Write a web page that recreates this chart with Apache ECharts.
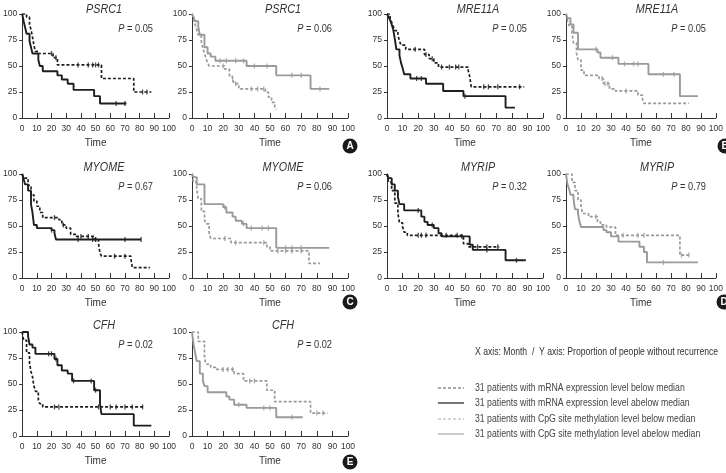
<!DOCTYPE html>
<html>
<head>
<meta charset="utf-8">
<script src="https://cdn.jsdelivr.net/npm/echarts@6/dist/echarts.min.js"></script>
<style>
  html, body { margin: 0; padding: 0; background: #fff; }
  #chart { width: 726px; height: 473px; }
</style>
</head>
<body>
<div id="chart"></div>
<script>
  // ---- data: [month, % without recurrence] at each step of the KM curves ----
  const genes = ['PSRC1', 'PSRC1', 'MRE11A', 'MRE11A', 'MYOME', 'MYOME', 'MYRIP', 'MYRIP', 'CFH', 'CFH'];
  const pValues = ['0.05', '0.06', '0.05', '0.05', '0.67', '0.06', '0.32', '0.79', '0.02', '0.02'];
  // 'mrna' = expression (black), 'cpg' = methylation (gray)
  const kinds = ['mrna', 'cpg', 'mrna', 'cpg', 'mrna', 'cpg', 'mrna', 'cpg', 'mrna', 'cpg'];

  // below median (dashed)
  const lowCurves = [
    [[0,100],[3,97],[5,90],[6,85],[7,78],[8,70],[9,64],[11,62],[21,58],[24,51],[54,38],[76,25],[88,25]],
    [[0,100],[1,95],[2,90],[3,85],[4,80],[6,73],[7,67],[8,62],[9,57],[10,53],[11,50],[21,47],[24,40],[26,37],[27,33],[30,28],[47,25],[49,20],[51,15],[53,11],[54,8]],
    [[0,100],[2,96],[3,92],[4,88],[5,84],[7,80],[8,74],[9,70],[12,66],[24,61],[27,57],[30,53],[33,49],[52,46],[53,40],[54,30],[88,30]],
    [[0,100],[1,94],[2,89],[4,82],[5,72],[7,62],[8,56],[10,46],[12,41],[22,38],[25,33],[29,28],[33,26],[48,22],[51,18],[52,14],[82,14]],
    [[0,100],[1,96],[4,89],[6,80],[8,74],[10,69],[12,63],[14,58],[25,56],[27,51],[30,48],[33,42],[37,40],[49,37],[52,33],[53,24],[54,21],[74,19],[75,10],[87,10]],
    [[0,100],[1,92],[3,86],[4,76],[6,64],[8,56],[9,52],[11,43],[12,38],[25,34],[48,30],[50,26],[75,14],[82,14]],
    [[0,100],[1,92],[3,84],[5,72],[7,62],[8,53],[10,49],[11,44],[13,41],[49,33],[52,30],[72,30]],
    [[0,100],[4,92],[6,84],[8,75],[10,70],[11,62],[15,59],[21,54],[23,51],[27,49],[33,41],[76,22],[82,22]],
    [[0,100],[1,92],[3,80],[5,70],[6,62],[7,57],[8,48],[9,43],[11,35],[12,31],[14,28],[83,28]],
    [[0,100],[4,91],[8,75],[9,69],[12,66],[15,64],[27,60],[33,53],[48,44],[53,33],[76,22],[87,22]]
  ];
  // above median (solid)
  const highCurves = [
    [[0,100],[1,93],[2,87],[3,81],[5,74],[6,68],[7,62],[11,56],[12,50],[14,45],[24,41],[27,37],[31,33],[35,27],[49,21],[53,14],[71,14]],
    [[0,100],[1,97],[2,93],[4,88],[5,80],[8,68],[10,62],[12,59],[15,55],[35,50],[54,41],[76,28],[88,28]],
    [[0,100],[1,97],[2,94],[3,90],[4,85],[5,76],[6,66],[8,60],[9,53],[10,48],[11,42],[15,38],[25,33],[36,26],[49,21],[76,10],[82,10]],
    [[0,100],[1,96],[3,90],[5,82],[8,66],[21,63],[23,58],[35,52],[55,42],[76,21],[88,21]],
    [[0,100],[1,95],[2,90],[4,84],[6,71],[7,63],[8,51],[10,48],[20,46],[22,43],[23,37],[81,37]],
    [[0,100],[1,97],[3,90],[8,71],[20,68],[22,63],[26,59],[28,55],[32,52],[35,48],[54,29],[88,29]],
    [[0,100],[1,96],[3,90],[5,84],[7,78],[8,71],[11,65],[22,59],[24,54],[26,51],[30,48],[33,43],[35,40],[53,32],[55,27],[76,17],[89,17]],
    [[0,100],[1,90],[2,86],[3,80],[5,76],[6,66],[8,62],[9,54],[10,49],[25,46],[27,44],[30,40],[35,35],[49,30],[52,25],[54,15],[88,15]],
    [[0,100],[4,96],[5,88],[7,85],[9,79],[22,74],[24,68],[27,63],[31,60],[34,53],[49,44],[53,31],[54,21],[76,10],[88,10]],
    [[0,100],[1,88],[2,80],[3,72],[5,60],[7,53],[8,48],[10,42],[22,38],[24,35],[27,30],[35,27],[54,18],[71,18]]
  ];
  // censored observation times
  const lowCensor = [
    [20, 23, 38, 45, 48, 50, 52, 82, 85],
    [20, 26, 28, 38, 42, 46],
    [18, 25, 29, 35, 40, 44, 46, 62, 65, 71, 85],
    [24, 26, 28, 40],
    [22, 28, 40, 45, 50, 63, 70],
    [21, 28, 46, 55, 60, 64, 70],
    [20, 22, 25, 38, 45, 58, 64, 71],
    [20, 38, 48, 52, 77, 82],
    [22, 25, 52, 60, 64, 70, 75, 82],
    [20, 23, 26, 37, 40, 80, 84]
  ];
  const highCensor = [
    [64, 70],
    [18, 22, 28, 33, 40, 48, 64, 70, 82],
    [19, 22, 50],
    [20, 31, 39, 45, 48, 65, 72],
    [20, 38, 48, 50, 70, 81],
    [21, 33, 38, 45, 49, 60, 64, 70],
    [20, 29, 48, 64, 83],
    [65],
    [18, 20, 23, 35, 47, 50],
    [30, 46, 50, 64]
  ];
  const legendLabels = [
    '31 patients with mRNA expression level below median',
    '31 patients with mRNA expression level abelow median',
    '31 patients with CpG site methylation level below median',
    '31 patients with CpG site methylation level abelow median'
  ];
  const panelLetters = ['A', 'B', 'C', 'D', 'E'];

  // ---- layout ----
  const FONT = "'Liberation Sans', Arial, sans-serif";
  const SQUEEZE = 0.8; // condensed look of the original type
  const colLeft = [13, 192, 387, 566];
  const rowTop = [14, 174, 332];
  const plotW = 156, plotH = 104;
  const black = '#1e1e1e', gray = '#9a9a9a';

  const stepAt = (curve, t) => {
    let v = curve[0][1];
    curve.forEach(([ti, vi]) => { if (ti <= t) v = vi; });
    return v;
  };

  const chart = echarts.init(document.getElementById('chart'));
  const grid = [], xAxis = [], yAxis = [], series = [], graphic = [];

  genes.forEach((gene, i) => {
    const left = colLeft[i % 4];
    const top = rowTop[Math.floor(i / 4)];
    const color = kinds[i] === 'mrna' ? black : gray;
    grid.push({ left, top, width: plotW, height: plotH });
    xAxis.push({
      gridIndex: i, type: 'value', min: 0, max: 100, interval: 10,
      name: 'Time', nameLocation: 'middle', nameGap: 20,
      nameTextStyle: { fontFamily: FONT, fontSize: 10, color: '#333' },
      axisLine: { lineStyle: { color: '#333', width: 1 } },
      axisTick: { inside: true, length: 5, lineStyle: { color: '#333' } },
      axisLabel: { fontFamily: FONT, fontSize: 8.5, color: '#333', margin: 6 },
      splitLine: { show: false }
    });
    yAxis.push({
      gridIndex: i, type: 'value', min: 0, max: 100, interval: 25,
      axisLine: { show: true, lineStyle: { color: '#333', width: 1 } },
      axisTick: { show: true, length: 3, lineStyle: { color: '#333' } },
      axisLabel: { fontFamily: FONT, fontSize: 8.5, color: '#333', margin: 5 },
      splitLine: { show: false }
    });

    // gene name and P value
    graphic.push({
      type: 'text', x: left + 91, y: i < 4 ? top - 5 : top - 7, scaleX: SQUEEZE,
      style: {
        text: gene, fill: '#333', fontFamily: FONT, fontSize: 13.5, fontStyle: 'italic',
        align: 'center', verticalAlign: 'middle'
      }
    });
    graphic.push({
      type: 'text', x: left + 140, y: i < 4 ? top + 15 : top + 13, scaleX: 0.88,
      style: {
        text: '{p|P} = ' + pValues[i], fill: '#333', fontFamily: FONT, fontSize: 10.5,
        align: 'right', verticalAlign: 'middle',
        rich: { p: { fontFamily: FONT, fontSize: 10.5, fontStyle: 'italic', fill: '#333' } }
      }
    });

    series.push({
      type: 'line', step: 'end', xAxisIndex: i, yAxisIndex: i, showSymbol: false, silent: true,
      data: lowCurves[i],
      lineStyle: { color, width: 1.7, type: [3, 2] }
    });
    series.push({
      type: 'line', step: 'end', xAxisIndex: i, yAxisIndex: i, showSymbol: false, silent: true,
      data: highCurves[i],
      lineStyle: { color, width: 1.9, type: 'solid' }
    });
    series.push({
      type: 'scatter', xAxisIndex: i, yAxisIndex: i, silent: true,
      symbol: 'rect', symbolSize: [1.3, 5],
      itemStyle: { color },
      data: lowCensor[i].map(t => [t, stepAt(lowCurves[i], t)])
    });
    series.push({
      type: 'scatter', xAxisIndex: i, yAxisIndex: i, silent: true,
      symbol: 'rect', symbolSize: [1.3, 5],
      itemStyle: { color },
      data: highCensor[i].map(t => [t, stepAt(highCurves[i], t)])
    });
  });

  // legend block
  graphic.push({
    type: 'text', x: 475, y: 352, scaleX: 0.82,
    style: {
      text: 'X axis: Month  /  Y axis: Proportion of people without recurrence',
      fill: '#333', fontFamily: FONT, fontSize: 10.5, verticalAlign: 'middle'
    }
  });
  const legendStyles = [
    { stroke: '#555', lineWidth: 1.2, lineDash: [3, 2] },
    { stroke: '#555', lineWidth: 1.6, lineDash: null },
    { stroke: '#aaa', lineWidth: 1.2, lineDash: [3, 2] },
    { stroke: '#aaa', lineWidth: 1.2, lineDash: null }
  ];
  const legendY = [388, 403, 419, 434];
  legendLabels.forEach((label, k) => {
    graphic.push({
      type: 'line', shape: { x1: 438, y1: legendY[k], x2: 464, y2: legendY[k] },
      style: legendStyles[k]
    });
    graphic.push({
      type: 'text', x: 475, y: legendY[k], scaleX: 0.83,
      style: { text: label, fill: '#444', fontFamily: FONT, fontSize: 10.5, verticalAlign: 'middle' }
    });
  });

  // panel letters
  const letterPos = [[350, 146], [725, 146], [350, 302], [724, 302], [350, 462]];
  panelLetters.forEach((letter, k) => {
    const [cx, cy] = letterPos[k];
    graphic.push({ type: 'circle', shape: { cx, cy, r: 7.5 }, style: { fill: '#1a1a1a' } });
    graphic.push({
      type: 'text', x: cx, y: cy + 0.5,
      style: {
        text: letter, fill: '#fff', fontFamily: FONT, fontSize: 10, fontWeight: 'bold',
        align: 'center', verticalAlign: 'middle'
      }
    });
  });

  chart.setOption({
    backgroundColor: '#fff',
    animation: false,
    grid, xAxis, yAxis, series, graphic
  });
</script>
</body>
</html>
